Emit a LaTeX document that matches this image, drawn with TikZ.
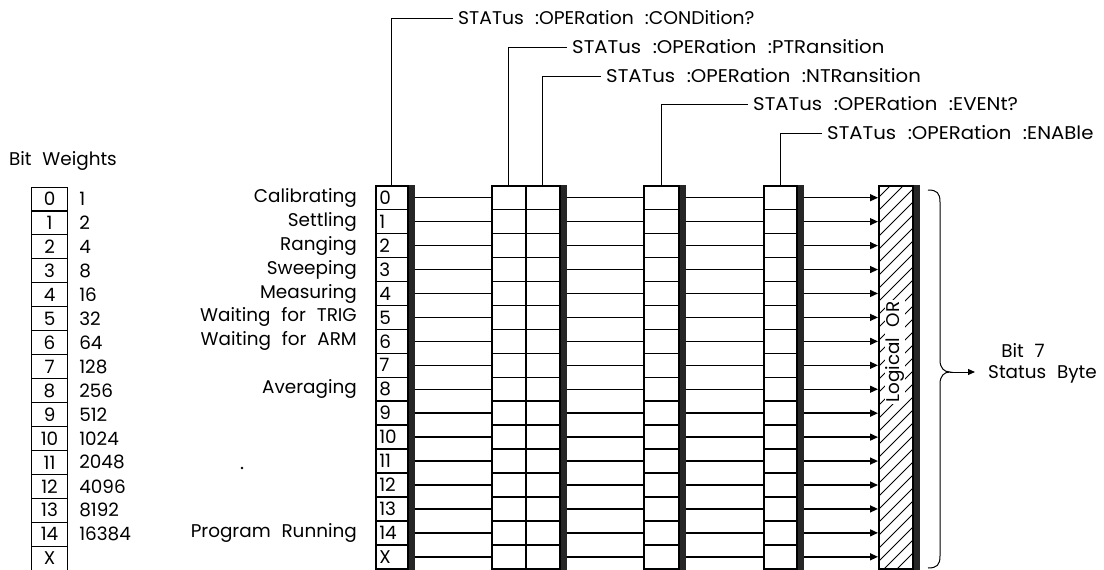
\documentclass[tikz,border=0pt]{standalone}
\usepackage{fontspec}
\setmainfont{Poppins}[WordSpace=2.2]
\newfontfamily\topfont{Poppins}[FakeStretch=1.07,WordSpace=2.2]
\newfontfamily\topfontc{Poppins}[FakeStretch=1.02,WordSpace=2.2]
\usetikzlibrary{arrows.meta}
\begin{document}
\begin{tikzpicture}[x=1pt,y=-1pt,
  every node/.style={font=\fontsize{18.4}{22}\selectfont},
  cell/.style={draw, line width=1.5pt, minimum width=#1pt, minimum height=23.94pt, inner sep=0pt, anchor=north west},
  bcell/.style={draw, line width=1.1pt, minimum width=36pt, minimum height=23.94pt, inner sep=0pt, anchor=north west},
  hline/.style={line width=1.4pt},
  harr/.style={line width=1.4pt, -{Triangle[length=8pt,width=7pt]}},
  leader/.style={line width=1pt},
  tl/.style={anchor=west, inner sep=5pt, font=\topfont\fontsize{18.4}{22}\selectfont},
  bar/.style={fill=black!85}]
\useasboundingbox (0,0) rectangle (1104,570);
\def\rh{23.94}
% bit weights table
\node[anchor=center] (bw) at (63,161) {Bit Weights};
\foreach \i/\t/\w in {0/0/1,1/1/2,2/2/4,3/3/8,4/4/16,5/5/32,6/6/64,7/7/128,8/8/256,9/9/512,10/10/1024,11/11/2048,12/12/4096,13/13/8192,14/14/16384,15/X/} {
  \pgfmathsetmacro\yy{186.5+\rh*\i}
  \node[bcell] (b\i) at (31,\yy) {\t};
  \node[anchor=west, inner sep=0pt] (w\i) at ([xshift=11pt]b\i.east) {\w};
}
% registers
\foreach \i/\t in {0/0,1/1,2/2,3/3,4/4,5/5,6/6,7/7,8/8,9/9,10/10,11/11,12/12,13/13,14/14,15/X} {
  \pgfmathsetmacro\yy{185+\rh*\i}
  \node[cell=32, text width=25pt, align=left] (c\i) at (375,\yy) {\t};
  \node[cell=34] (p\i) at (491,\yy) {};
  \node[cell=34] (n\i) at (525,\yy) {};
  \node[cell=35] (e\i) at (643,\yy) {};
  \node[cell=33] (en\i) at (763,\yy) {};
}
% logical OR box
\node[draw, line width=1.5pt, minimum width=34pt, minimum height=383pt, anchor=north west, inner sep=0pt] (lor) at (878,185) {};
\begin{scope}
  \clip (lor.north west) rectangle (lor.south east);
  \foreach \k in {0,...,31} \draw[line width=0.8pt] (878,{185+13*\k}) -- ++(40,-40);
\end{scope}
\node[draw, line width=1.5pt, minimum width=34pt, minimum height=383pt, anchor=north west, inner sep=0pt] at (878,185) {};
\node[rotate=90, fill=white, inner sep=1pt] (ortext) at (895,352) {Logical OR};
% shadow bars
\fill[bar] (c0.north east) rectangle ([xshift=6pt]c15.south east);
\fill[bar] (n0.north east) rectangle ([xshift=6pt]n15.south east);
\fill[bar] (e0.north east) rectangle ([xshift=6pt]e15.south east);
\fill[bar] (en0.north east) rectangle ([xshift=6pt]en15.south east);
\fill[bar] (lor.north east) rectangle ([xshift=6pt]lor.south east);
% left labels
\foreach \i/\l in {0/Calibrating,1/Settling,2/Ranging,3/Sweeping,4/Measuring,5/Waiting for TRIG,6/Waiting for ARM,8/Averaging,14/Program Running}
  \node[anchor=east, inner sep=0pt] (l\i) at ([xshift=-18pt]c\i.west) {\l};
\fill (242,468) circle (1.3pt);
% connectors
\foreach \i in {0,...,15} {
  \draw[hline] ([xshift=6pt]c\i.east) -- (p\i.west);
  \draw[hline] ([xshift=6pt]n\i.east) -- (e\i.west);
  \draw[hline] ([xshift=6pt]e\i.east) -- (en\i.west);
  \draw[harr] ([xshift=6pt]en\i.east) -- (lor.west |- en\i.east);
}
% top labels
\node[tl, font=\topfontc\fontsize{18.4}{22}\selectfont] (tC) at (453,18) {STATus :OPERation :CONDition?};
\node[tl] (tP) at (567,47) {STATus :OPERation :PTRansition};
\node[tl] (tN) at (601,76) {STATus :OPERation :NTRansition};
\node[tl] (tE) at (748,104) {STATus :OPERation :EVENt?};
\node[tl] (tA) at (822,133) {STATus :OPERation :ENABle};
\draw[leader] (c0.north) |- (tC.west);
\draw[leader] (p0.north) |- (tP.west);
\draw[leader] (n0.north) |- (tN.west);
\draw[leader] (e0.north) |- (tE.west);
\draw[leader] (en0.north) |- (tA.west);
% brace
\coordinate (tip) at (950,372);
\draw[line width=1pt] (928,190) .. controls (937,190) and (940,193) .. (940,202) -- (940,360) .. controls (940,368) and (944,372) .. (tip) .. controls (944,372) and (940,376) .. (940,384) -- (940,556) .. controls (940,565) and (937,568) .. (928,568);
\node[anchor=center] (bit7) at (1023,350) {Bit 7};
\node[anchor=west, inner sep=0pt] (sb) at (988,374) {Status Byte};
\draw[line width=1pt, -{Triangle[length=7pt,width=6pt]}, shorten >=13pt] (tip) -- (sb.west |- tip);
\end{tikzpicture}
\end{document}
